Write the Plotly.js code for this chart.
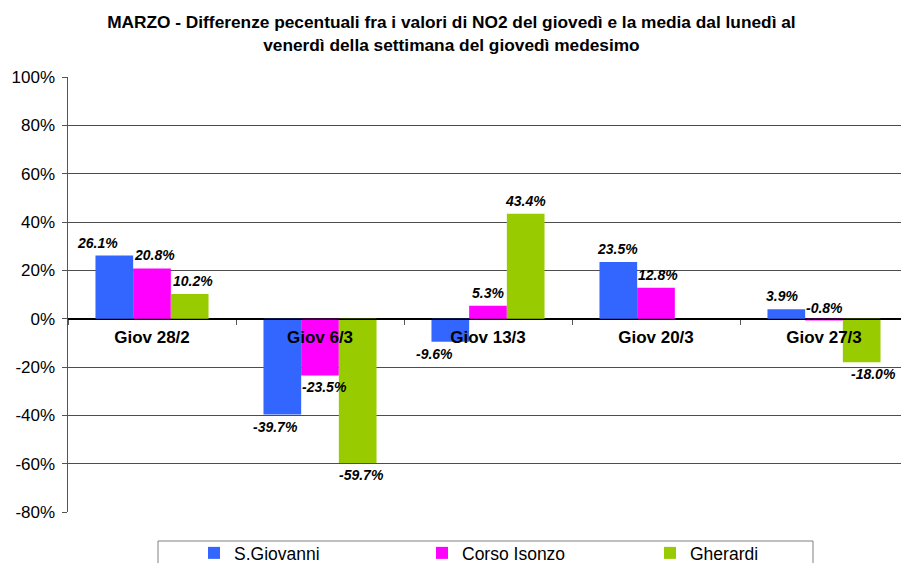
<!DOCTYPE html>
<html>
<head>
<meta charset="utf-8">
<script src="https://cdn.plot.ly/plotly-3.0.1.min.js"></script>
<style>html,body{margin:0;padding:0;background:#fff;overflow:hidden;}#wrap{width:901px;height:563px;overflow:hidden;}#chart{width:901px;height:620px;}</style>
</head>
<body>
<div id="wrap"><div id="chart"></div></div>
<script>
// ---- data ----
const categories = ["Giov 28/2", "Giov 6/3", "Giov 13/3", "Giov 20/3", "Giov 27/3"];
const seriesNames = ["S.Giovanni", "Corso Isonzo", "Gherardi"];
const sGiovanni = [26.1, -39.7, -9.6, 23.5, 3.9];
const corsoIsonzo = [20.8, -23.5, 5.3, 12.8, -0.8];
const gherardi = [10.2, -59.7, 43.4, null, -18.0];
const yTickVals = [-80, -60, -40, -20, 0, 20, 40, 60, 80, 100];

// ---- style ----
const colors = ["#3366FF", "#FF00FF", "#99CC00"];
const FONT = "Liberation Sans, Arial, sans-serif";
const labelShiftX = [[-17, -7, -16, -1, -4], [2, 4, 0, 2, 0], [3, 4, 0, 0, 12]];
const labelForceAbove = [[false, false, false, false, false], [false, false, false, false, true], [false, false, false, false, false]];

const seriesValues = [sGiovanni, corsoIsonzo, gherardi];
const bargap = 0.327;
const barW = (1 - bargap) / 3;

const traces = seriesValues.map((vals, s) => ({
  type: "bar",
  name: seriesNames[s],
  x: categories,
  y: vals,
  marker: {color: colors[s], line: {width: 0}},
  hoverinfo: "none"
}));

const annotations = [];
seriesValues.forEach((vals, s) => {
  vals.forEach((v, i) => {
    if (v === null) return;
    const above = v >= 0 || labelForceAbove[s][i];
    annotations.push({
      xref: "x", yref: "y",
      x: i + (s - 1) * barW,
      y: v,
      text: "<b><i>" + v.toFixed(1) + "%</i></b>",
      showarrow: false,
      xanchor: "center",
      yanchor: above ? "bottom" : "top",
      xshift: labelShiftX[s][i],
      yshift: above ? 3 : -2,
      font: {family: FONT, size: 14, color: "#000"}
    });
  });
});

const H = 620;
const plotLeft = 68, plotRight = 901, plotTop = 77, plotBottom = 512;
const pw = plotRight - plotLeft, ph = plotBottom - plotTop;
const px2x = p => (p - plotLeft) / pw;
const px2y = p => (plotBottom - p) / ph;

const layout = {
  width: 901, height: H,
  margin: {l: plotLeft, r: 901 - plotRight, t: plotTop, b: H - plotBottom, pad: 0},
  paper_bgcolor: "#fff", plot_bgcolor: "#fff",
  font: {family: FONT, color: "#000"},
  title: {
    text: "<b>MARZO - Differenze pecentuali fra i valori di NO2 del giovedì e la media dal lunedì al<br>venerdì della settimana del giovedì medesimo</b>",
    font: {family: FONT, size: 17.3, color: "#000"},
    xref: "container", x: 0.501, xanchor: "center",
    yref: "container", y: 1 - 28.4 / H, yanchor: "top"
  },
  barmode: "group",
  bargap: bargap,
  bargroupgap: 0,
  showlegend: true,
  legend: {
    orientation: "h",
    x: px2x(194), xanchor: "left", xref: "paper",
    y: px2y(535), yanchor: "top", yref: "paper",
    bgcolor: "rgba(0,0,0,0)", borderwidth: 0,
    entrywidth: 183, entrywidthmode: "pixels",
    font: {family: FONT, size: 17.5, color: "#000"},
    traceorder: "normal"
  },
  shapes: [{
    type: "rect", xref: "paper", yref: "paper",
    x0: px2x(158), x1: px2x(813), y0: px2y(541), y1: px2y(640),
    line: {color: "#808080", width: 1}, fillcolor: "rgba(0,0,0,0)", layer: "below"
  }],
  xaxis: {
    type: "category",
    categoryorder: "array", categoryarray: categories,
    range: [-0.5, -0.5 + pw / 168],
    anchor: "free", position: 4 / 9,
    showline: true, linecolor: "#000", linewidth: 1,
    ticks: "outside", ticklen: 5, tickcolor: "#555", tickwidth: 1,
    tickson: "boundaries",
    showgrid: false, zeroline: false,
    tickfont: {family: FONT, size: 17, color: "#000", weight: "bold"},
    ticklabelstandoff: 3,
    fixedrange: true
  },
  yaxis: {
    range: [-80, 100],
    tickvals: yTickVals,
    ticktext: yTickVals.map(v => v + "%"),
    showline: true, linecolor: "#555", linewidth: 1.5,
    ticks: "outside", ticklen: 5, tickcolor: "#555",
    showgrid: true, gridcolor: "#4d4d4d", gridwidth: 1,
    zeroline: true, zerolinecolor: "#000", zerolinewidth: 1,
    tickfont: {family: FONT, size: 17, color: "#000"},
    ticklabelstandoff: 3,
    fixedrange: true
  },
  annotations: annotations
};

Plotly.newPlot("chart", traces, layout, {staticPlot: true, displayModeBar: false});
</script>
</body>
</html>
